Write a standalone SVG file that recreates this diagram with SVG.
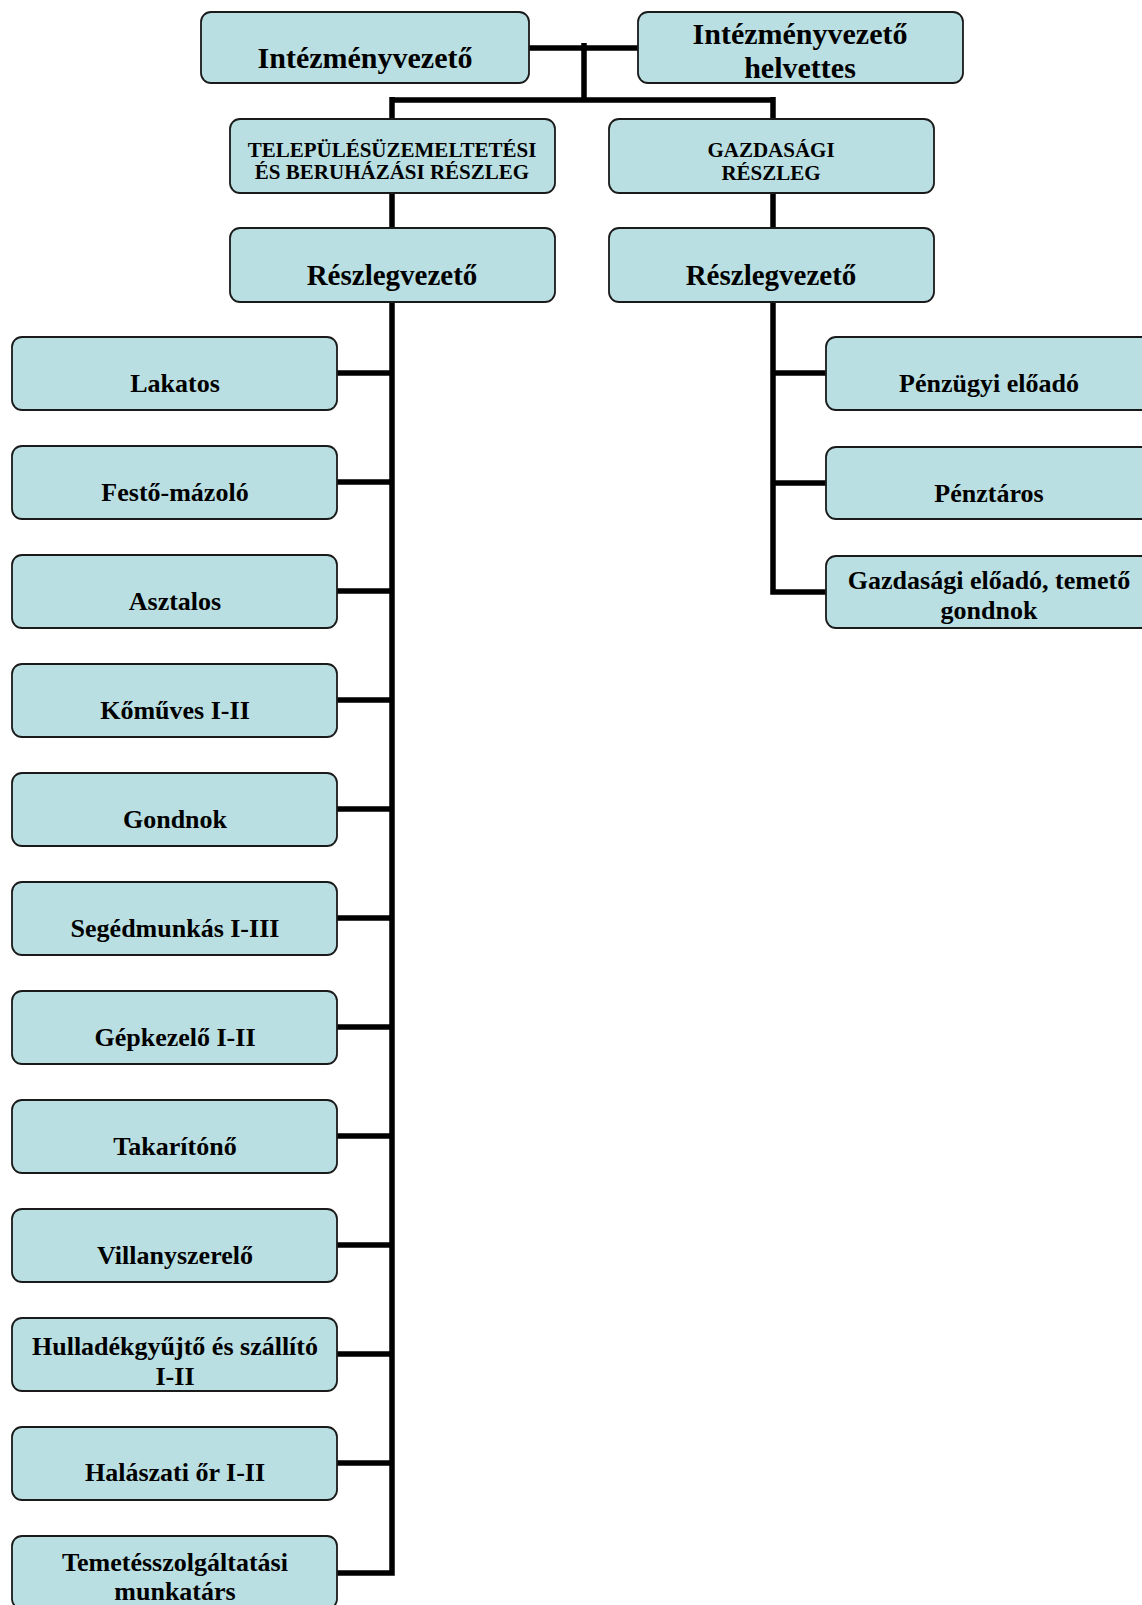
<svg xmlns="http://www.w3.org/2000/svg" width="1142" height="1605" viewBox="0 0 1142 1605">
<style>
.box{fill:#b9dfe2;stroke:#1a1a1a;stroke-width:1.8}
.t{font-family:"Liberation Serif","Times New Roman",serif;font-weight:bold;fill:#000;text-anchor:middle}
.l{font-size:26px}
.big{font-size:30px}
.mid{font-size:29px}
.sm{font-size:21px}
.c{fill:none;stroke:#000;stroke-width:5.5;stroke-linejoin:miter;stroke-linecap:butt}
</style>
<rect width="1142" height="1605" fill="#fff"/>
<g id="connectors">
<path class="c" d="M529 48H638M584 43V100M392 100H773M392 97V119M773 97V119"/>
<path class="c" d="M392 193V228M773 193V228"/>
<path class="c" d="M392 302V1573H337M337 373H392M337 482H392M337 591H392M337 700H392M337 809H392M337 918H392M337 1027H392M337 1136H392M337 1245H392M337 1354H392M337 1463H392"/>
<path class="c" d="M773 302V592H826M773 373H826M773 483H826"/>
</g>
<g id="n-intezmenyvezeto"><rect class="box" x="201" y="12" width="328" height="71" rx="10"/><text class="t big" x="365" y="68">Intézményvezető</text></g>
<g id="n-helvettes"><rect class="box" x="638" y="12" width="325" height="71" rx="10"/><text class="t big" x="800" y="44">Intézményvezető</text><text class="t big" x="800" y="78">helvettes</text></g>
<g id="n-telepules"><rect class="box" x="230" y="119" width="325" height="74" rx="10"/><text class="t sm" x="392" y="157">TELEPÜLÉSÜZEMELTETÉSI</text><text class="t sm" x="392" y="179">ÉS BERUHÁZÁSI RÉSZLEG</text></g>
<g id="n-gazdasagi"><rect class="box" x="609" y="119" width="325" height="74" rx="10"/><text class="t sm" x="771" y="157">GAZDASÁGI</text><text class="t sm" x="771" y="180">RÉSZLEG</text></g>
<g id="n-reszleg1"><rect class="box" x="230" y="228" width="325" height="74" rx="10"/><text class="t mid" x="392" y="285">Részlegvezető</text></g>
<g id="n-reszleg2"><rect class="box" x="609" y="228" width="325" height="74" rx="10"/><text class="t mid" x="771" y="285">Részlegvezető</text></g>
<g id="n-lakatos"><rect class="box" x="12" y="337" width="325" height="73" rx="10"/><text class="t l" x="175" y="392">Lakatos</text></g>
<g id="n-festo"><rect class="box" x="12" y="446" width="325" height="73" rx="10"/><text class="t l" x="175" y="501">Festő-mázoló</text></g>
<g id="n-asztalos"><rect class="box" x="12" y="555" width="325" height="73" rx="10"/><text class="t l" x="175" y="610">Asztalos</text></g>
<g id="n-komuves"><rect class="box" x="12" y="664" width="325" height="73" rx="10"/><text class="t l" x="175" y="719">Kőműves I-II</text></g>
<g id="n-gondnok"><rect class="box" x="12" y="773" width="325" height="73" rx="10"/><text class="t l" x="175" y="828">Gondnok</text></g>
<g id="n-segedmunkas"><rect class="box" x="12" y="882" width="325" height="73" rx="10"/><text class="t l" x="175" y="937">Segédmunkás I-III</text></g>
<g id="n-gepkezelo"><rect class="box" x="12" y="991" width="325" height="73" rx="10"/><text class="t l" x="175" y="1046">Gépkezelő I-II</text></g>
<g id="n-takaritono"><rect class="box" x="12" y="1100" width="325" height="73" rx="10"/><text class="t l" x="175" y="1155">Takarítónő</text></g>
<g id="n-villanyszerelo"><rect class="box" x="12" y="1209" width="325" height="73" rx="10"/><text class="t l" x="175" y="1264">Villanyszerelő</text></g>
<g id="n-hulladek"><rect class="box" x="12" y="1318" width="325" height="73" rx="10"/><text class="t l" x="175" y="1355">Hulladékgyűjtő és szállító</text><text class="t l" x="175" y="1385">I-II</text></g>
<g id="n-halaszati"><rect class="box" x="12" y="1427" width="325" height="73" rx="10"/><text class="t l" x="175" y="1481">Halászati őr I-II</text></g>
<g id="n-temetes"><rect class="box" x="12" y="1536" width="325" height="73" rx="10"/><text class="t l" x="175" y="1571">Temetésszolgáltatási</text><text class="t l" x="175" y="1600">munkatárs</text></g>
<g id="n-penzugyi"><rect class="box" x="826" y="337" width="326" height="73" rx="10"/><text class="t l" x="989" y="392">Pénzügyi előadó</text></g>
<g id="n-penztaros"><rect class="box" x="826" y="447" width="326" height="72" rx="10"/><text class="t l" x="989" y="502">Pénztáros</text></g>
<g id="n-gazd-eloado"><rect class="box" x="826" y="556" width="326" height="72" rx="10"/><text class="t l" x="989" y="589">Gazdasági előadó, temető</text><text class="t l" x="989" y="619">gondnok</text></g>
</svg>
